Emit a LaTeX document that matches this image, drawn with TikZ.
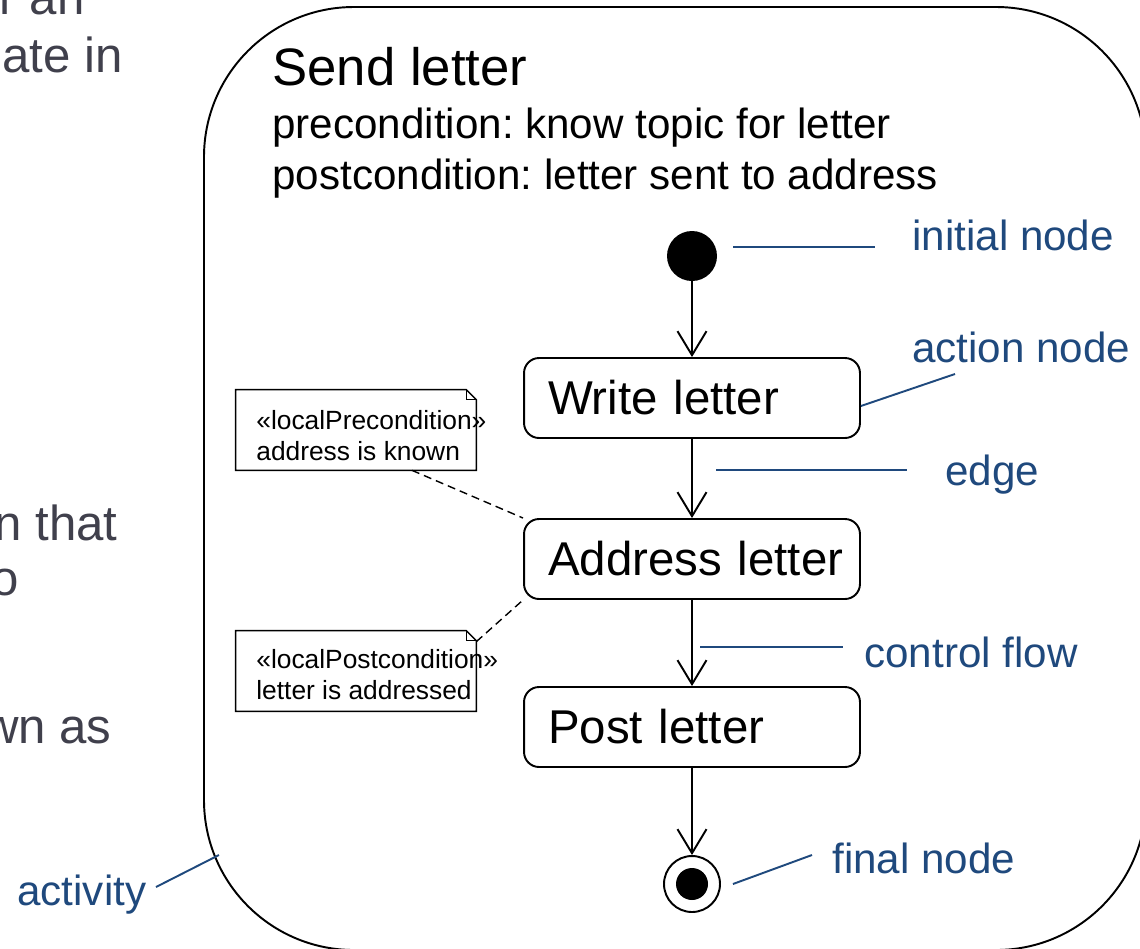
\documentclass[tikz,border=0pt]{standalone}
\usepackage{fontspec}
\setmainfont{Liberation Sans}
\usetikzlibrary{arrows.meta}
\definecolor{labelblue}{RGB}{31,73,125}
\definecolor{slidegray}{RGB}{64,64,76}
\frenchspacing
\newcommand{\dogear}[1]{%
\draw[line width=0.8pt] (#1.north west) -- ([xshift=-0.2cm]#1.north east) -- ([yshift=-0.2cm]#1.north east) -- (#1.south east) -- (#1.south west) -- cycle;
\draw[line width=0.6pt] ([xshift=-0.2cm]#1.north east) |- ([yshift=-0.2cm]#1.north east);}

\begin{document}
\begin{tikzpicture}[x=0.02cm, y=-0.02cm,
  action/.style={draw, rounded corners=0.3cm, line width=1.1pt, minimum height=1.6cm, text width=5.76cm, inner xsep=0.48cm, align=left, font=\fontsize{27}{32}\selectfont},
  flow/.style={-{Straight Barb[length=0.48cm, width=0.58cm]}, line width=1.1pt},
  notebox/.style={minimum width=4.8cm, minimum height=1.6cm, inner sep=0},
  notetext/.style={anchor=west, inner sep=0, align=left, font=\fontsize{15}{17.6}\selectfont},
  leader/.style={labelblue, line width=1.1pt},
  lbl/.style={labelblue, anchor=base west, inner sep=0, font=\fontsize{24}{29}\selectfont},
  slide/.style={slidegray, anchor=base east, inner sep=0, font=\fontsize{28}{34}\selectfont},
  head/.style={anchor=base west, inner sep=0}]
\useasboundingbox (0,0) rectangle (1140,948);
\clip (0,0) rectangle (1140,948);
\node[slide] at (85,14) {r an};
\node[slide] at (123,72) {ate in};
\node[slide] at (118,540) {n that};
\node[slide] at (19,595) {o};
\node[slide] at (112,743) {wn as};
\draw[line width=1.1pt, rounded corners=3cm] (204,7) rectangle (1146,950);
\node[head, font=\fontsize{30}{36}\selectfont] (title) at (272,85) {Send letter};
\node[head, font=\fontsize{24}{29}\selectfont] (pre) at (272,138) {precondition: know topic for letter};
\node[head, font=\fontsize{24}{29}\selectfont] (post) at (272,189) {postcondition: letter sent to address};
\node[fill, circle, minimum size=1cm, inner sep=0] (start) at (692,256) {};
\node[action] (write) at (692,398) {\mbox{Write letter}};
\node[action] (address) at (692,559) {\mbox{Address letter}};
\node[action] (postit) at (692,727) {\mbox{Post letter}};
\node[draw, circle, line width=1.1pt, minimum size=1.12cm, inner sep=0] (final) at (692,884) {};
\fill (final.center) circle (0.32cm);
\draw[flow] (start) -- (write);
\draw[flow] (write) -- (address);
\draw[flow] (address) -- (postit);
\draw[flow] (postit) -- (final);
\node[notebox] (prenote) at (356,430) {};
\dogear{prenote}
\node[notetext] at (256,436) {«localPrecondition»\\address is known};
\node[notebox] (postnote) at (356,671) {};
\dogear{postnote}
\node[notetext] at (256,675) {«localPostcondition»\\letter is addressed};
\draw[dashed, dash pattern=on 0.16cm off 0.1cm, line width=0.8pt] ([xshift=1.12cm]prenote.south) -- (address.north west);
\draw[dashed, dash pattern=on 0.16cm off 0.1cm, line width=0.8pt] ([yshift=-0.22cm]postnote.north east) -- (address.south west);
\node[lbl] (initlbl) at (912,250) {initial node};
\node[lbl] (actlbl) at (912,362) {action node};
\node[lbl] (edgelbl) at (945,485) {edge};
\node[lbl] (flowlbl) at (864,667) {control flow};
\node[lbl] (finallbl) at (832,873) {final node};
\node[lbl] (actvlbl) at (17,905) {activity};
\coordinate (initfrom) at (733,247);
\coordinate (initend) at (875,247);
\coordinate (actend) at (955,374);
\coordinate (edgefrom) at (716,470);
\coordinate (edgeend) at (907,470);
\coordinate (flowfrom) at (700,647);
\coordinate (flowend) at (843,647);
\coordinate (finalend) at (812,855);
\coordinate (actvfrom) at (156,887);
\coordinate (frameend) at (219,855);
\draw[leader] (initfrom) -- (initend);
\draw[leader] ([yshift=-0.16cm]write.east) -- (actend);
\draw[leader] (edgefrom) -- (edgeend);
\draw[leader] (flowfrom) -- (flowend);
\draw[leader] ([xshift=0.24cm]final.east) -- (finalend);
\draw[leader] (actvfrom) -- (frameend);
\end{tikzpicture}
\end{document}
